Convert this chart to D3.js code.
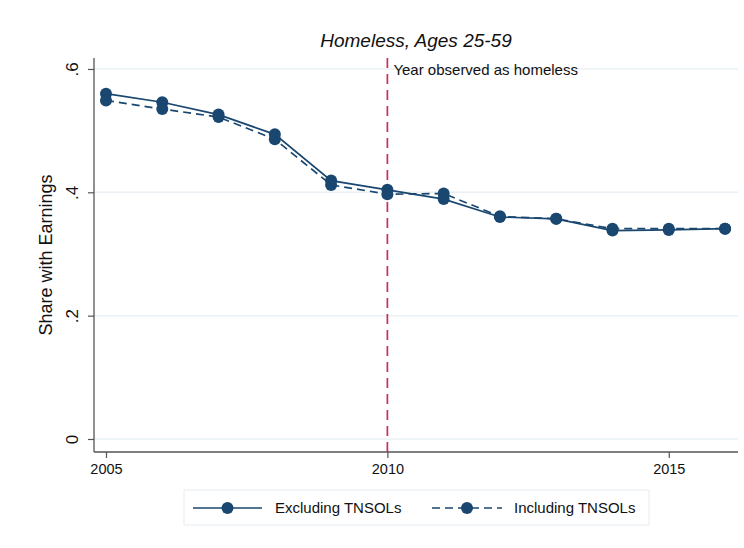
<!DOCTYPE html>
<html>
<head>
<meta charset="utf-8">
<script src="https://cdn.jsdelivr.net/npm/d3@7"></script>
<style>
  html, body { margin: 0; padding: 0; background: #fff; }
  svg { display: block; font-family: "Liberation Sans", Arial, sans-serif; }
</style>
</head>
<body>
<svg id="chart" width="744" height="548"></svg>
<script>
// Share of homeless adults (ages 25-59) with earnings, by year
const years = [2005, 2006, 2007, 2008, 2009, 2010, 2011, 2012, 2013, 2014, 2015, 2016];
const excludingTNSOLs = [0.560, 0.546, 0.526, 0.494, 0.419, 0.404, 0.389, 0.360, 0.357, 0.338, 0.339, 0.341];
const includingTNSOLs = [0.549, 0.535, 0.522, 0.486, 0.412, 0.397, 0.398, 0.361, 0.357, 0.341, 0.341, 0.341];
const yTicks = [0, 0.2, 0.4, 0.6];
const yTickLabels = ["0", ".2", ".4", ".6"];
const xTicks = [2005, 2010, 2015];
const eventYear = 2010;
const seriesNames = ["Excluding TNSOLs", "Including TNSOLs"];

const navy = "#1a476f";
const svg = d3.select("#chart");

const plot = { left: 94, right: 738, top: 58, bottom: 452 };

const x = d3.scaleLinear()
  .domain([2004.787, 2016.23])
  .range([plot.left, plot.right]);
const y = d3.scaleLinear()
  .domain([-0.0211, 0.6178])
  .range([plot.bottom, plot.top]);

// horizontal grid lines
svg.append("g")
  .selectAll("line")
  .data(yTicks)
  .join("line")
  .attr("x1", plot.left).attr("x2", plot.right)
  .attr("y1", d => y(d)).attr("y2", d => y(d))
  .attr("stroke", "#eaf0f3").attr("stroke-width", 1.5);

// y axis
const yAxis = svg.append("g")
  .attr("transform", `translate(${plot.left},0)`)
  .call(d3.axisLeft(y).tickValues(yTicks).tickSize(6).tickFormat((d, i) => yTickLabels[i]));
yAxis.select(".domain").attr("d", `M0,${plot.top}V${plot.bottom}`).attr("stroke", "#555").attr("stroke-width", 1.3);
yAxis.selectAll(".tick line").attr("stroke", "#555").attr("stroke-width", 1.2);
yAxis.selectAll(".tick text")
  .attr("x", 0).attr("y", 0).attr("dy", null)
  .attr("transform", "translate(-16,0) rotate(-90)")
  .attr("text-anchor", "middle")
  .attr("font-size", 17).attr("fill", "#111")
  .attr("font-family", "Liberation Sans, Arial, sans-serif");

// x axis
const xAxis = svg.append("g")
  .attr("transform", `translate(0,${plot.bottom})`)
  .call(d3.axisBottom(x).tickValues(xTicks).tickSize(6).tickFormat(d3.format("d")));
xAxis.select(".domain").attr("d", `M${plot.left},0H${plot.right}`).attr("stroke", "#555").attr("stroke-width", 1.3);
xAxis.selectAll(".tick line").attr("stroke", "#555").attr("stroke-width", 1.2);
xAxis.selectAll(".tick text")
  .attr("y", 12).attr("dy", "0.71em")
  .attr("font-size", 14.5).attr("fill", "#111")
  .attr("font-family", "Liberation Sans, Arial, sans-serif");

// vertical reference line at the year observed as homeless
svg.append("line")
  .attr("x1", x(eventYear)).attr("x2", x(eventYear))
  .attr("y1", plot.top).attr("y2", plot.bottom)
  .attr("stroke", "#cc2d57").attr("stroke-width", 1.7)
  .attr("stroke-dasharray", "10,6");

svg.append("text")
  .attr("x", x(eventYear) + 6).attr("y", 75)
  .attr("font-size", 15).attr("fill", "#111")
  .text("Year observed as homeless");

// series
const series = [
  { name: seriesNames[0], values: excludingTNSOLs, dash: null },
  { name: seriesNames[1], values: includingTNSOLs, dash: "8,5" }
];

const line = d3.line().x(d => x(d[0])).y(d => y(d[1]));

series.forEach(s => {
  const pts = years.map((yr, i) => [yr, s.values[i]]);
  svg.append("path")
    .datum(pts)
    .attr("d", line)
    .attr("fill", "none")
    .attr("stroke", navy)
    .attr("stroke-width", 1.7)
    .attr("stroke-dasharray", s.dash);
  svg.append("g")
    .selectAll("circle")
    .data(pts)
    .join("circle")
    .attr("cx", d => x(d[0])).attr("cy", d => y(d[1]))
    .attr("r", 6)
    .attr("fill", navy);
});

// title
svg.append("text")
  .attr("x", 416).attr("y", 47)
  .attr("text-anchor", "middle")
  .attr("font-size", 19).attr("font-style", "italic").attr("fill", "#111")
  .text("Homeless, Ages 25-59");

// y axis title
svg.append("text")
  .attr("transform", `translate(52,${(plot.top + plot.bottom) / 2}) rotate(-90)`)
  .attr("text-anchor", "middle")
  .attr("font-size", 18).attr("fill", "#111")
  .text("Share with Earnings");

// legend
const legend = svg.append("g");
legend.append("rect")
  .attr("x", 184).attr("y", 490).attr("width", 465).attr("height", 35)
  .attr("fill", "#fff").attr("stroke", "#e6edf1").attr("stroke-width", 1);

const legendItems = [
  { x0: 193, x1: 262, tx: 275, dash: null, label: seriesNames[0] },
  { x0: 432, x1: 502, tx: 514, dash: "8,5", label: seriesNames[1] }
];
legendItems.forEach(it => {
  legend.append("line")
    .attr("x1", it.x0).attr("x2", it.x1).attr("y1", 508).attr("y2", 508)
    .attr("stroke", navy).attr("stroke-width", 1.7)
    .attr("stroke-dasharray", it.dash);
  legend.append("circle")
    .attr("cx", (it.x0 + it.x1) / 2).attr("cy", 508).attr("r", 6).attr("fill", navy);
  legend.append("text")
    .attr("x", it.tx).attr("y", 513)
    .attr("font-size", 15).attr("fill", "#111")
    .text(it.label);
});
</script>
</body>
</html>
